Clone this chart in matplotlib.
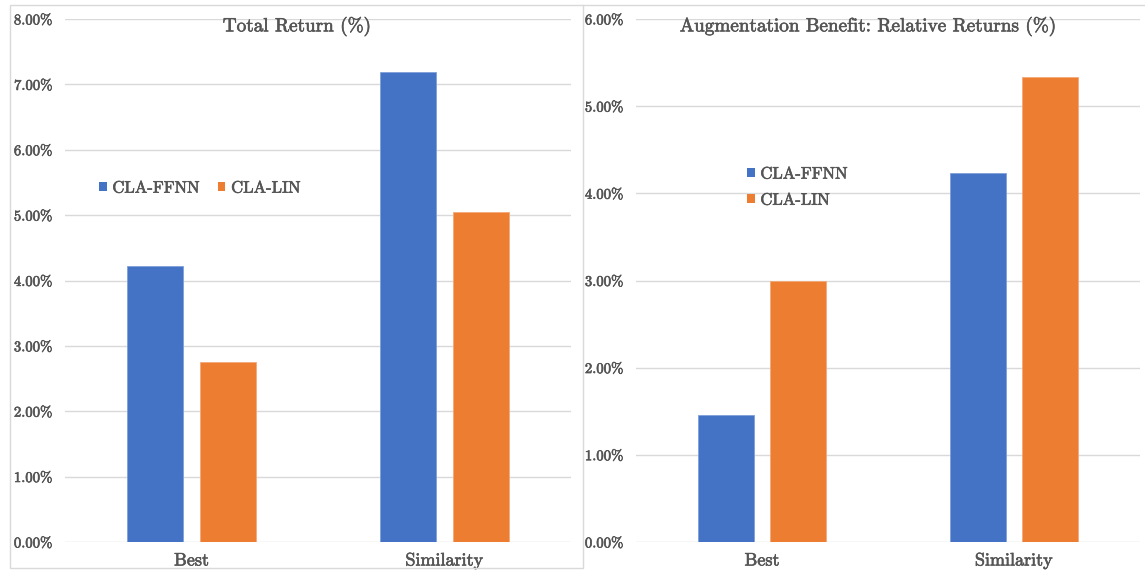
import matplotlib
matplotlib.use("Agg")
import matplotlib.pyplot as plt
import matplotlib.patheffects as pe
from matplotlib.text import Text
import numpy as np
from matplotlib.patches import Rectangle, Patch
from matplotlib.lines import Line2D

# ---- data ----
categories = ["Best", "Similarity"]
series_names = ["CLA-FFNN", "CLA-LIN"]
total_ffnn = [4.22, 7.19]
total_lin = [2.75, 5.05]
rel_ffnn = [1.46, 4.23]
rel_lin = [3.00, 5.33]
total_ticks = [0, 1, 2, 3, 4, 5, 6, 7, 8]
rel_ticks = [0, 1, 2, 3, 4, 5, 6]
total_title = "Total Return (%)"
rel_title = "Augmentation Benefit: Relative Returns (%)"

BLUE = "#4472C4"
ORANGE = "#ED7D31"
TEXT = "#555555"
GRID = "#D9D9D9"
FONT = "cmr10"

W, H = 1145, 570
fig = plt.figure(figsize=(W / 100, H / 100), dpi=100)
fig.patch.set_facecolor("white")


def px_axes(x0, x1, ytop, ybot):
    return fig.add_axes([x0 / W, (H - ybot) / H, (x1 - x0) / W, (ybot - ytop) / H])


def draw_panel(ax, a, b, ticks, title, title_x):
    x = np.arange(len(categories))
    width = 0.221
    off = 0.143
    ax.bar(x - off, a, width, color=BLUE, edgecolor="#7F9FDA", linewidth=0.6, zorder=3)
    ax.bar(x + off, b, width, color=ORANGE, edgecolor="#F4A878", linewidth=0.6, zorder=3)
    ax.set_xlim(-0.5, len(categories) - 0.5)
    ax.set_ylim(ticks[0], ticks[-1])
    ax.set_yticks(ticks)
    ax.set_yticklabels([f"{t:.2f}%" for t in ticks], fontfamily=FONT, fontsize=10.6, color=TEXT)
    ax.set_xticks(x)
    ax.set_xticklabels(categories, fontfamily=FONT, fontsize=13, color=TEXT)
    ax.tick_params(axis="both", length=0)
    ax.tick_params(axis="y", pad=9)
    ax.tick_params(axis="x", pad=8)
    for s in ax.spines.values():
        s.set_visible(False)
    ax.yaxis.grid(True, color=GRID, linewidth=1.0, zorder=0)
    ax.set_axisbelow(True)
    ax.set_facecolor("none")
    fig.text(title_x / W, 1 - 26 / H, title, ha="center", va="center",
             fontfamily=FONT, fontsize=13.8, color=TEXT)


handles = [Patch(facecolor=BLUE, edgecolor="none"), Patch(facecolor=ORANGE, edgecolor="none")]

# left panel: total return
ax1 = px_axes(65, 571, 19, 542)
draw_panel(ax1, total_ffnn, total_lin, total_ticks, total_title, 297)
ax1.legend(handles, series_names, loc="center left", bbox_to_anchor=(99 / W, 1 - 188 / H),
           bbox_transform=fig.transFigure, frameon=False, ncol=2,
           handlelength=0.45, handleheight=0.45, handletextpad=0.35, columnspacing=1.1,
           borderpad=0, borderaxespad=0,
           prop={"family": FONT, "size": 12}, labelcolor=TEXT)

# right panel: relative returns
ax2 = px_axes(636, 1140, 19, 542)
draw_panel(ax2, rel_ffnn, rel_lin, rel_ticks, rel_title, 868)
ax2.legend(handles, series_names, loc="center left", bbox_to_anchor=(747 / W, 1 - 187 / H),
           bbox_transform=fig.transFigure, frameon=False, ncol=1,
           handlelength=0.45, handleheight=0.45, handletextpad=0.35, labelspacing=0.65,
           borderpad=0, borderaxespad=0,
           prop={"family": FONT, "size": 12}, labelcolor=TEXT)

# panel frames
fig.add_artist(Rectangle((10 / W, (H - 568) / H), 573 / W, 563 / H, transform=fig.transFigure,
                         fill=False, edgecolor=GRID, linewidth=1.0))
fig.add_artist(Line2D([583 / W, 1.0], [1 - 5 / H, 1 - 5 / H], transform=fig.transFigure,
                      color=GRID, linewidth=1.0))

# slightly heavier strokes for all text
for t in fig.findobj(Text):
    t.set_path_effects([pe.withStroke(linewidth=0.45, foreground=TEXT)])

fig.savefig("out.png", dpi=100, facecolor="white")
